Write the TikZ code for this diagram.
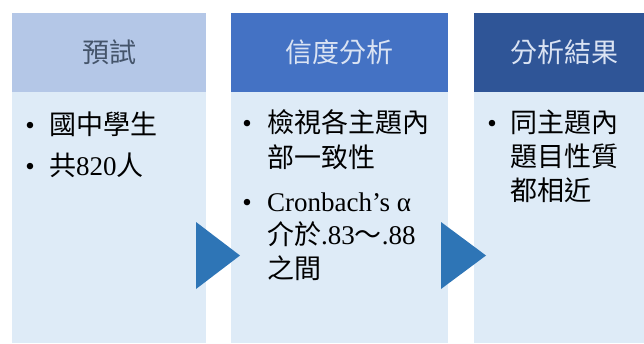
\documentclass[tikz,border=0pt]{standalone}
\usepackage{fontspec}
\setmainfont{Liberation Serif}
\newfontfamily\cjk{Noto Sans CJK TC}
\definecolor{headA}{HTML}{B4C7E7}
\definecolor{headB}{HTML}{4472C4}
\definecolor{headC}{HTML}{2F5597}
\definecolor{headAtext}{HTML}{44546A}
\definecolor{headtext}{HTML}{DAE3F3}
\definecolor{bodyfill}{HTML}{DEEBF7}
\definecolor{arrowfill}{HTML}{2E75B6}
\tikzset{
  head/.style={inner sep=0, minimum height=79pt, font=\cjk\fontsize{27}{32}\selectfont},
  body/.style={fill=bodyfill, inner sep=0, minimum height=251pt, anchor=north},
  dot/.style={anchor=base, inner sep=0, font=\fontsize{27}{34}\selectfont},
  item/.style={anchor=base west, inner sep=0, font=\fontsize{27}{34}\selectfont}
}
\begin{document}
\begin{tikzpicture}[x=1pt, y=-1pt]
      \useasboundingbox (0,0) rectangle (644,343);
      \clip (0,0) rectangle (644,343);
      % columns
      \node[head, fill=headA, text=headAtext, minimum width=194pt] (hdA) at (109,52.5) {預試};
      \node[body, minimum width=194pt] (bdA) at (109,92) {};
      \node[head, fill=headB, text=headtext, minimum width=217pt] (hdB) at (339.5,52.5) {信度分析};
      \node[body, minimum width=217pt] (bdB) at (339.5,92) {};
      \node[head, fill=headC, text=headtext, minimum width=180pt] (hdC) at (564,52.5) {分析結果};
      \node[body, minimum width=180pt] (bdC) at (564,92) {};
      % arrows
      \fill[arrowfill] (196,222) -- (240,255.5) -- (196,289) -- cycle;
      \fill[arrowfill] (441,222) -- (486,255.5) -- (441,289) -- cycle;
      % items
      \node[dot] (dA1) at (30,134) {•};
      \node[item] (itA1) at (49,134) {\cjk 國中學生};
      \node[dot] (dA2) at (30,175) {•};
      \node[item] (itA2) at (49,175) {{\cjk 共}820{\cjk 人}};
      \node[dot] (dB1) at (247,132) {•};
      \node[item] (itB1) at (267,132) {\cjk 檢視各主題內};
      \node[item] (itB1b) at (267,167) {\cjk 部一致性};
      \node[dot] (dB2) at (247,211) {•};
      \node[item] (itB2) at (267,211) {Cronbach’s α};
      \node[item] (itB2b) at (267,244) {{\cjk 介於}.83{\cjk ～}.88};
      \node[item] (itB2c) at (267,278) {\cjk 之間};
      \node[dot] (dC1) at (492,132) {•};
      \node[item] (itC1) at (510,132) {\cjk 同主題內};
      \node[item] (itC1b) at (510,166) {\cjk 題目性質};
      \node[item] (itC1c) at (510,200) {\cjk 都相近};
\end{tikzpicture}
\end{document}
